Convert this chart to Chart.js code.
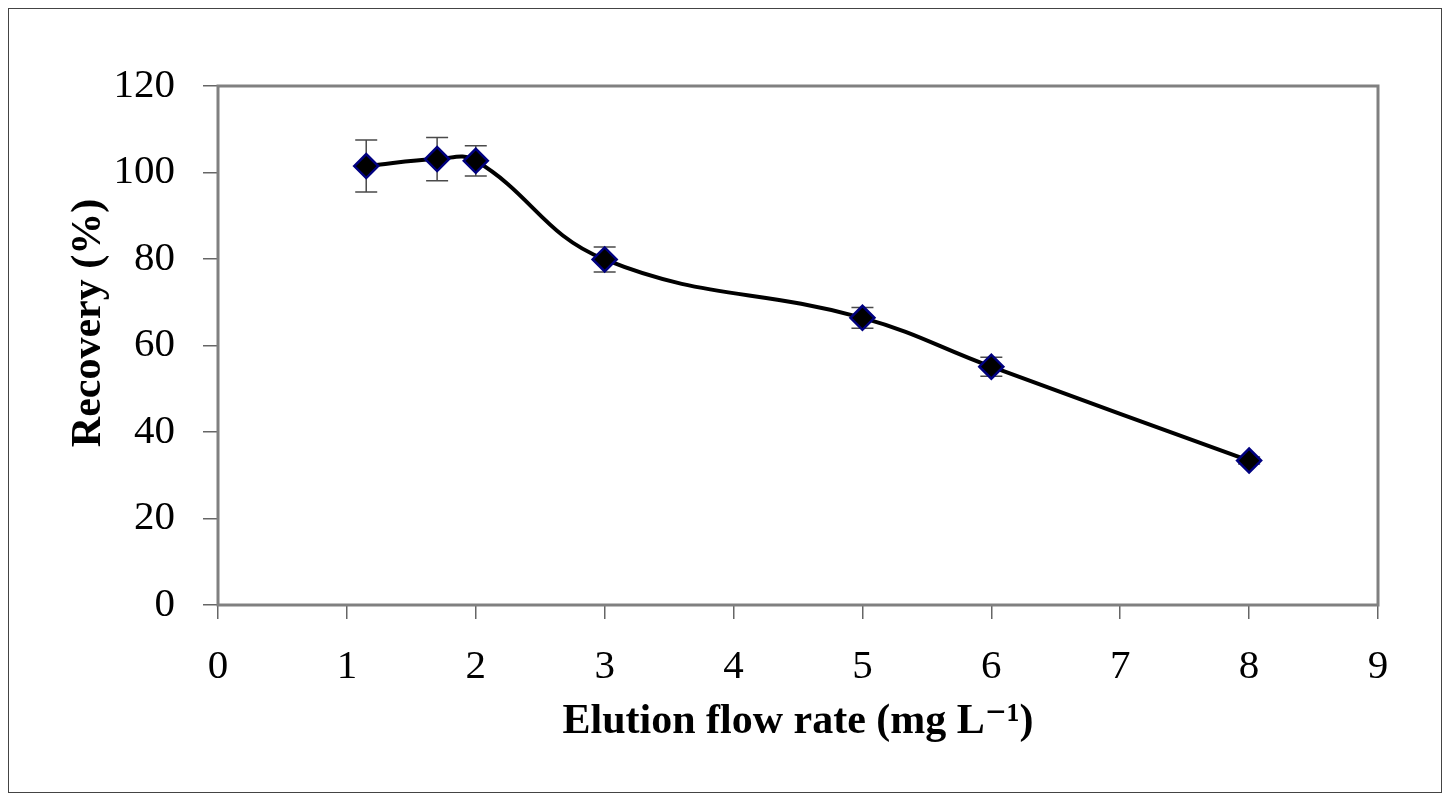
<!DOCTYPE html>
<html>
<head>
<meta charset="utf-8">
<script src="https://cdn.jsdelivr.net/npm/chart.js@4"></script>
<style>
    body { margin: 0; background: #fff; }
    .frame { position: absolute; left: 8px; top: 8px; width: 1432px; height: 783px; border: 1px solid #444; }
    .chart { position: absolute; left: 0; top: 0; width: 1454px; height: 801px; }
</style>
</head>
<body>
<div class="frame"></div>
<div class="chart"><canvas id="chartCanvas" width="1454" height="801"></canvas></div>
<script>
// values
const flowRate = [1.15, 1.7, 2, 3, 5, 6, 8]
const recovery = [101.5, 103.1, 102.7, 79.9, 66.4, 55.1, 33.4]
const errorBar = [6, 5, 3.5, 2.9, 2.4, 2.2, 0.8]
const xTicks = [0, 1, 2, 3, 4, 5, 6, 7, 8, 9]
const yTicks = [0, 20, 40, 60, 80, 100, 120]
const yTitle = 'Recovery (%)'
const xTitle = 'Elution flow rate (mg L\u207B\u00B9)'

const serif = '"Liberation Serif", "DejaVu Serif", serif'

// plot frame + error bars drawn behind the markers
const extras = {
    id: 'extras',
    beforeDatasetsDraw(chart) {
        const {ctx, chartArea: a, scales: {x, y}} = chart
        ctx.save()
        ctx.strokeStyle = '#808080'
        ctx.lineWidth = 3
        ctx.strokeRect(a.left, a.top, a.right - a.left, a.bottom - a.top)
        ctx.strokeStyle = '#4a4a4a'
        ctx.lineWidth = 1.5
        flowRate.forEach((fx, i) => {
            const px = x.getPixelForValue(fx)
            const top = y.getPixelForValue(recovery[i] + errorBar[i])
            const bot = y.getPixelForValue(recovery[i] - errorBar[i])
            ctx.beginPath()
            ctx.moveTo(px, top); ctx.lineTo(px, bot)
            ctx.moveTo(px - 11, top); ctx.lineTo(px + 11, top)
            ctx.moveTo(px - 11, bot); ctx.lineTo(px + 11, bot)
            ctx.stroke()
        })
        ctx.restore()
    },
    // y title sits a little above the plot's middle in the original
    afterDraw(chart) {
        const {ctx} = chart
        ctx.save()
        ctx.translate(89, 323)
        ctx.rotate(-Math.PI / 2)
        ctx.font = 'bold 42px ' + serif
        ctx.fillStyle = '#000'
        ctx.textAlign = 'center'
        ctx.textBaseline = 'middle'
        ctx.fillText(yTitle, 0, 0)
        ctx.restore()
    }
}

const config = {
    type: 'scatter',
    data: {
        datasets: [
            {
                data: flowRate.map((v, i) => ({x: v, y: recovery[i]})),
                showLine: true,
                borderColor: '#000',
                borderWidth: 4,
                tension: 0.42,
                pointStyle: 'rectRot',
                pointRadius: 12,
                pointBackgroundColor: '#000',
                pointBorderColor: '#000080',
                pointBorderWidth: 2.5
            }
        ]
    },
    plugins: [extras],
    options: {
        responsive: false,
        animation: false,
        layout: { padding: { top: 86, right: 76, left: 0, bottom: 0 } },
        plugins: { legend: { display: false }, tooltip: { enabled: false } },
        scales: {
            x: {
                type: 'linear',
                min: 0,
                max: 9,
                afterBuildTicks: s => { s.ticks = xTicks.map(v => ({value: v})) },
                afterFit: s => { s.height = 196 },
                grid: { drawOnChartArea: false, tickLength: 14, color: '#666', lineWidth: 1.5 },
                border: { display: false },
                ticks: { color: '#000', padding: 24, font: { family: serif, size: 41 } },
                title: {
                    display: true,
                    text: xTitle,
                    color: '#000',
                    padding: { top: 0, bottom: 54 },
                    font: { family: serif, size: 42, weight: 'bold' }
                }
            },
            y: {
                min: 0,
                max: 120,
                afterBuildTicks: s => { s.ticks = yTicks.map(v => ({value: v})) },
                afterFit: s => { s.width = 218 },
                grid: { drawOnChartArea: false, tickLength: 15, color: '#666', lineWidth: 1.5 },
                border: { display: false },
                ticks: { color: '#000', padding: 28, font: { family: serif, size: 41 } }
            }
        }
    }
}

new Chart(document.getElementById('chartCanvas'), config)
</script>
</body>
</html>
